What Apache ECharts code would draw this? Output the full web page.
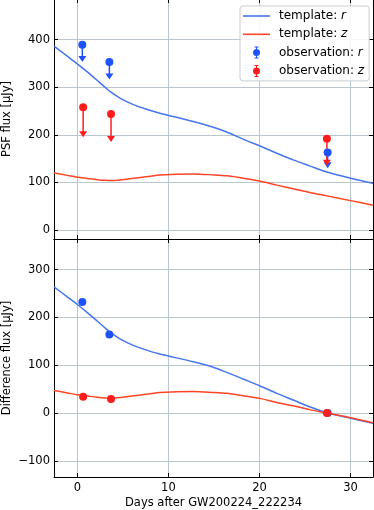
<!DOCTYPE html>
<html>
<head>
<meta charset="utf-8">
<script src="https://cdn.jsdelivr.net/npm/echarts@6/dist/echarts.min.js"></script>
<style>html,body{margin:0;padding:0;background:#fff}#c{width:374px;height:510px}</style>
</head>
<body>
<div id="c"></div>
<script>
// ---- data ----
const templateDays   = [-2.56, -1.1, 0, 1.1, 2.2, 3.1, 3.66, 4.76, 6.22, 7.69, 9.07, 12.73, 14.93, 16.4, 18.2, 20, 21.9, 23.7, 25.5, 27.4, 30, 32.46];
const templateR_psf  = [386, 365, 349, 332, 314, 299, 290, 276, 263, 253, 245.5, 228, 216, 206, 191, 177, 161.5, 147.5, 135, 122, 109, 98.5];
const templateZ_psf  = [120, 115, 111, 108.5, 106, 104.5, 104, 105.5, 109, 112.5, 116, 118, 116, 114, 109, 103, 94.5, 87, 79, 72, 62, 52.5];
const templateR_diff = [264, 243, 227, 210, 192, 177, 168, 154, 141, 131, 123.5, 107, 95.6, 85, 71, 57, 41, 27, 13, 0.5, -11, -21.5];
const templateZ_diff = [47, 42, 38, 35.5, 33, 31.5, 31, 32.5, 36, 39.5, 43, 45, 43, 41, 36, 30.5, 22, 15, 7, 0, -10, -20.5];

const obsDaysR = [0.55, 3.52, 27.48];
const obsDaysZ = [0.64, 3.7, 27.4];
const obsR_psf = [389, 353, 163];
const obsR_psfLimitEnd = [353, 316, 130];
const obsZ_psf = [258, 244, 192];
const obsZ_psfLimitEnd = [195, 185, 135];
const obsR_diff = [232, 164, 0];
const obsZ_diff = [34, 29, 0];

const xTicks = [0, 10, 20, 30];
const yTicksTop = [0, 100, 200, 300, 400];
const yTicksBottom = [-100, 0, 100, 200, 300];

// ---- style ----
const FONT = 'DejaVu Sans';
const FS = 11.5;
const LINE_BLUE = '#4676ee';
const LINE_RED = '#ff4524';
const OBS_BLUE = '#1f52ff';
const OBS_RED = '#ff1c1c';
const GRIDC = '#b9c7d1';
const xMin = -2.56, xMax = 32.46;

const zip = (a, b) => a.map((v, i) => [v, b[i]]);
const zip3 = (a, b, c) => a.map((v, i) => [v, b[i], c[i]]);
const minus = v => String(v).replace('-', '\u2212');

function xAx(grid, pos, labels, name) {
  return {
    type: 'value', gridIndex: grid, position: pos, min: xMin, max: xMax,
    axisLine: {show: true, onZero: false, lineStyle: {color: '#000', width: 1}},
    axisTick: {show: true, inside: true, length: 4, lineStyle: {color: '#000', width: 1}, customValues: xTicks},
    axisLabel: {show: labels, customValues: xTicks, fontFamily: FONT, fontSize: FS, color: '#000', margin: 5, formatter: minus},
    splitLine: {show: pos === 'bottom', lineStyle: {color: GRIDC, width: 1}},
    name: name || '', nameLocation: 'middle', nameGap: 20, nameMoveOverlap: false,
    nameTextStyle: {fontFamily: FONT, fontSize: FS, color: '#000'}
  };
}
function yAx(grid, pos, min, max, ticks, labels, name) {
  return {
    type: 'value', gridIndex: grid, position: pos, min: min, max: max,
    axisLine: {show: true, onZero: false, lineStyle: {color: '#000', width: 1}},
    axisTick: {show: true, inside: true, length: 4, lineStyle: {color: '#000', width: 1}, customValues: ticks},
    axisLabel: {show: labels, customValues: ticks, fontFamily: FONT, fontSize: FS, color: '#000', margin: 4, formatter: minus},
    splitLine: {show: pos === 'left', lineStyle: {color: GRIDC, width: 1}},
    name: name || '', nameLocation: 'middle', nameGap: 41, nameMoveOverlap: false,
    nameTextStyle: {fontFamily: FONT, fontSize: FS, color: '#000'}
  };
}

function arrowRender(color) {
  return function (params, api) {
    const x = api.value(0);
    const p0 = api.coord([x, api.value(1)]);
    const p1 = api.coord([x, api.value(2)]);
    const hw = 4, hh = 6;
    return {
      type: 'group',
      children: [
        {type: 'line', shape: {x1: p0[0], y1: p0[1], x2: p1[0], y2: p1[1] - hh + 1},
         style: {stroke: color, lineWidth: 1.5}},
        {type: 'polygon', shape: {points: [[p1[0] - hw, p1[1] - hh], [p1[0] + hw, p1[1] - hh], [p1[0], p1[1]]]},
         style: {fill: color}}
      ]
    };
  };
}

const obsIcon = 'path://M4.5,0 L5.5,0 L5.5,12 L4.5,12 Z M3,0 L7,0 L7,1 L3,1 Z M3,11 L7,11 L7,12 L3,12 Z M8.5,6 A3.5,3.5 0 1 1 1.5,6 A3.5,3.5 0 1 1 8.5,6 Z';
const lineIcon = 'path://M0,0 L27,0 L27,1.6 L0,1.6 Z';

const chart = echarts.init(document.getElementById('c'), null, {renderer: 'canvas'});
chart.setOption({
  animation: false,
  backgroundColor: '#fff',
  textStyle: {fontFamily: FONT},
  grid: [
    {left: 54, right: 1, top: -1, height: 240, containLabel: false, outerBoundsMode: 'none'},
    {left: 54, right: 1, top: 239, height: 238, containLabel: false, outerBoundsMode: 'none'}
  ],
  xAxis: [
    xAx(0, 'bottom', false),
    xAx(1, 'bottom', true, 'Days after GW200224_222234'),
    xAx(0, 'top', false),
    xAx(1, 'top', false)
  ],
  yAxis: [
    yAx(0, 'left', -18.5, 485, yTicksTop, true, 'PSF flux [\u03bcJy]'),
    yAx(1, 'left', -134, 364, yTicksBottom, true, 'Difference flux [\u03bcJy]'),
    yAx(0, 'right', -18.5, 485, yTicksTop, false),
    yAx(1, 'right', -134, 364, yTicksBottom, false)
  ],
  legend: {
    left: 240, top: 6, orient: 'vertical',
    padding: [4, 5, 4, 3], itemWidth: 27, itemHeight: 12, itemGap: 6.3,
    backgroundColor: 'rgba(255,255,255,0.85)', borderColor: '#cccccc', borderWidth: 1, borderRadius: 3,
    textStyle: {fontFamily: FONT, fontSize: 12, color: '#000', lineHeight: 12, padding: [0, 0, 0, 4],
      rich: {i: {fontFamily: FONT, fontSize: 12, fontStyle: 'italic', color: '#000'}}},
    formatter: name => { const p = name.split(': '); return p[0] + ': {i|' + p[1] + '}'; },
    data: [
      {name: 'template: r', icon: lineIcon, itemStyle: {color: LINE_BLUE}},
      {name: 'template: z', icon: lineIcon, itemStyle: {color: LINE_RED}},
      {name: 'observation: r', icon: obsIcon, itemStyle: {color: OBS_BLUE}},
      {name: 'observation: z', icon: obsIcon, itemStyle: {color: OBS_RED}}
    ]
  },
  series: [
    {name: 'template: r', type: 'line', xAxisIndex: 0, yAxisIndex: 0, data: zip(templateDays, templateR_psf),
     smooth: 0.3, symbol: 'none', lineStyle: {color: LINE_BLUE, width: 1.5}, itemStyle: {color: LINE_BLUE}, z: 2},
    {name: 'template: z', type: 'line', xAxisIndex: 0, yAxisIndex: 0, data: zip(templateDays, templateZ_psf),
     smooth: 0.3, symbol: 'none', lineStyle: {color: LINE_RED, width: 1.5}, itemStyle: {color: LINE_RED}, z: 2},
    {name: 'template: r', type: 'line', xAxisIndex: 1, yAxisIndex: 1, data: zip(templateDays, templateR_diff),
     smooth: 0.3, symbol: 'none', lineStyle: {color: LINE_BLUE, width: 1.5}, itemStyle: {color: LINE_BLUE}, z: 2},
    {name: 'template: z', type: 'line', xAxisIndex: 1, yAxisIndex: 1, data: zip(templateDays, templateZ_diff),
     smooth: 0.3, symbol: 'none', lineStyle: {color: LINE_RED, width: 1.5}, itemStyle: {color: LINE_RED}, z: 2},
    {name: 'limit r', type: 'custom', xAxisIndex: 0, yAxisIndex: 0, data: zip3(obsDaysR, obsR_psf, obsR_psfLimitEnd),
     renderItem: arrowRender(OBS_BLUE), z: 3},
    {name: 'limit z', type: 'custom', xAxisIndex: 0, yAxisIndex: 0, data: zip3(obsDaysZ, obsZ_psf, obsZ_psfLimitEnd),
     renderItem: arrowRender(OBS_RED), z: 3},
    {name: 'observation: r', type: 'scatter', xAxisIndex: 0, yAxisIndex: 0, data: zip(obsDaysR, obsR_psf),
     symbol: 'circle', symbolSize: 8, itemStyle: {color: OBS_BLUE, opacity: 1}, z: 4},
    {name: 'observation: z', type: 'scatter', xAxisIndex: 0, yAxisIndex: 0, data: zip(obsDaysZ, obsZ_psf),
     symbol: 'circle', symbolSize: 8, itemStyle: {color: OBS_RED, opacity: 1}, z: 4},
    {name: 'observation: r', type: 'scatter', xAxisIndex: 1, yAxisIndex: 1, data: zip(obsDaysR, obsR_diff),
     symbol: 'circle', symbolSize: 8, itemStyle: {color: OBS_BLUE, opacity: 1}, z: 4},
    {name: 'observation: z', type: 'scatter', xAxisIndex: 1, yAxisIndex: 1, data: zip(obsDaysZ, obsZ_diff),
     symbol: 'circle', symbolSize: 8, itemStyle: {color: OBS_RED, opacity: 1}, z: 5}
  ]
});
</script>
</body>
</html>
